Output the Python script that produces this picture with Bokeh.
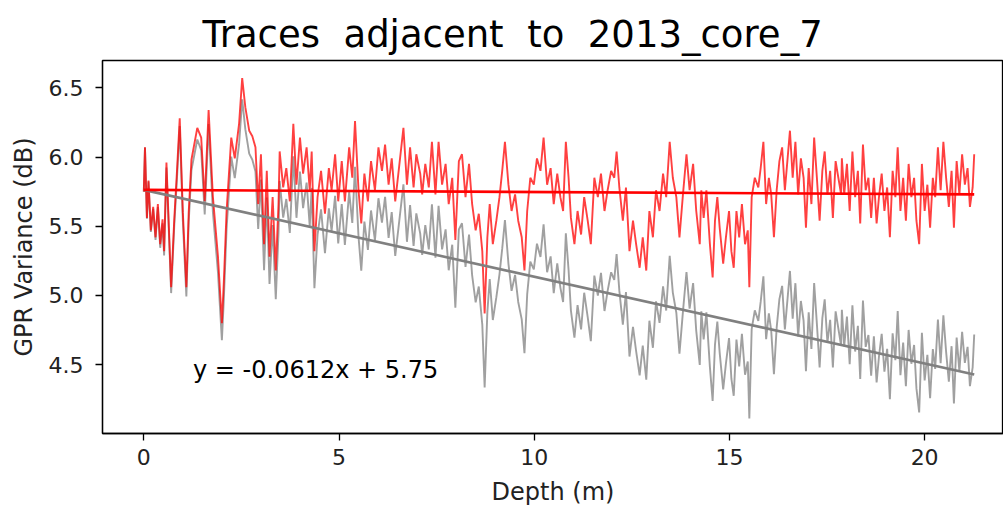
import numpy as np
from bokeh.plotting import figure
from bokeh.models import Range1d, Label, FixedTicker
from bokeh.embed import file_html
from bokeh.resources import INLINE

# ---- data ----
# depth (m) and the detrended GPR variance (dB) (red trace)
depth_m = [
    0.00, 0.03, 0.08, 0.12, 0.18, 0.24, 0.30, 0.36, 0.42, 0.48, 0.52, 0.58, 0.70, 0.78, 0.85, 0.92,
    1.00, 1.09, 1.15, 1.22, 1.37, 1.47, 1.56, 1.66, 1.77, 1.90, 2.00, 2.05, 2.12, 2.24, 2.33, 2.44,
    2.52, 2.60, 2.70, 2.78, 2.86, 2.93, 3.00, 3.08, 3.15, 3.22, 3.30, 3.38, 3.45,
    3.48, 3.57, 3.65, 3.74, 3.83, 3.91, 4.00, 4.08, 4.17, 4.25, 4.30, 4.37, 4.45, 4.54, 4.64, 4.74,
    4.81, 4.90, 4.98, 5.07, 5.15, 5.26, 5.34, 5.41, 5.50, 5.57, 5.65, 5.74, 5.82, 5.92, 6.01, 6.10,
    6.18, 6.27, 6.35, 6.44, 6.52, 6.65, 6.74, 6.82, 6.91, 6.98, 7.08,
    7.13, 7.21, 7.30, 7.38, 7.47, 7.55, 7.64, 7.73, 7.81, 7.90, 7.98, 8.07, 8.15, 8.24, 8.33, 8.41,
    8.50, 8.58, 8.67, 8.73, 8.80, 8.86, 8.94, 9.03, 9.11, 9.18, 9.25, 9.34, 9.42, 9.51, 9.59, 9.68,
    9.75, 9.82, 9.90, 9.99, 10.07, 10.16, 10.24, 10.33, 10.42, 10.50, 10.59, 10.67,
    10.74, 10.81, 10.88, 10.94, 11.03, 11.11, 11.20, 11.28, 11.37, 11.45, 11.54, 11.63, 11.71, 11.80,
    11.88, 11.97, 12.05, 12.11, 12.18, 12.27, 12.35, 12.44, 12.53, 12.61, 12.70, 12.78, 12.87, 12.95,
    13.04, 13.12, 13.21, 13.30, 13.38, 13.47, 13.55, 13.64, 13.72, 13.81, 13.90, 13.98, 14.07, 14.15, 14.24,
    14.28, 14.34, 14.41, 14.50, 14.57, 14.63, 14.69, 14.75, 14.84, 14.91, 14.99, 15.05, 15.11, 15.18,
    15.25, 15.32, 15.40, 15.47, 15.51, 15.57, 15.65, 15.74, 15.80, 15.87, 15.94, 16.01, 16.07, 16.14,
    16.21, 16.28, 16.35, 16.42, 16.49, 16.55, 16.62, 16.69, 16.76, 16.83, 16.90, 16.96, 17.03, 17.10,
    17.17, 17.24, 17.31, 17.38, 17.44, 17.51, 17.58, 17.65, 17.72, 17.79, 17.86,
    17.88, 17.94, 18.01, 18.08, 18.15, 18.22, 18.29, 18.35, 18.42, 18.49, 18.56, 18.63, 18.70, 18.77,
    18.83, 18.90, 18.97, 19.04, 19.11, 19.18, 19.25, 19.31, 19.38, 19.45, 19.52, 19.59, 19.66, 19.73,
    19.79, 19.86, 19.93, 20.00, 20.07, 20.14, 20.21, 20.27, 20.34, 20.41, 20.48, 20.55, 20.62, 20.69,
    20.75, 20.82, 20.89, 20.96, 21.03, 21.10, 21.16, 21.23, 21.27,
]
detrended_db = [
    5.75, 6.07, 5.56, 5.83, 5.47, 5.64, 5.42, 5.66, 5.37, 5.55, 5.32, 5.96, 5.06, 5.55, 5.90, 6.28,
    5.60, 5.06, 5.60, 5.98, 6.21, 6.14, 5.68, 6.34, 5.71, 5.28, 4.80, 5.10, 5.61, 6.14, 5.99, 6.24,
    6.57, 6.36, 6.19, 6.15, 6.07, 5.66, 6.02, 5.37, 5.90, 5.28, 5.71, 5.18, 5.66,
    6.04, 5.78, 5.92, 5.68, 6.24, 5.80, 6.14, 5.88, 6.07, 5.76, 6.04, 5.32, 5.71, 5.90, 5.59, 5.92,
    5.76, 6.02, 5.68, 5.97, 5.68, 6.07, 5.85, 6.26, 5.76, 5.52, 5.88, 5.68, 5.97, 5.76, 6.07, 5.90,
    6.09, 5.80, 5.99, 5.68, 5.88, 6.21, 5.80, 6.07, 5.78, 6.02, 5.88,
    5.73, 5.95, 5.78, 6.11, 5.73, 6.11, 5.80, 5.95, 5.66, 5.85, 5.40, 5.97, 6.02, 5.71, 5.95, 5.66,
    5.47, 5.59, 5.32, 4.87, 5.42, 5.66, 5.37, 5.54, 5.71, 5.90, 6.11, 5.80, 5.61, 5.73, 5.54, 5.42,
    5.18, 5.61, 5.85, 5.80, 5.99, 5.90, 6.14, 5.80, 5.92, 5.66, 5.88, 5.71,
    5.61, 6.11, 5.85, 5.56, 5.37, 5.61, 5.44, 5.71, 5.54, 5.37, 5.85, 5.71, 5.88, 5.61,
    5.76, 5.90, 5.85, 6.04, 5.78, 5.54, 5.78, 5.32, 5.54, 5.37, 5.20, 5.42, 5.18, 5.61,
    5.42, 5.76, 5.61, 5.88, 5.71, 6.11, 5.85, 5.71, 5.42, 5.73, 6.02, 5.76, 5.95, 5.61, 5.37,
    5.76, 5.56, 5.76, 5.37, 5.13, 5.54, 5.71, 5.49, 5.23, 5.42, 5.61, 5.32, 5.20, 5.61,
    5.42, 5.66, 5.37, 5.47, 5.06, 5.71, 5.85, 5.78, 5.92, 6.11, 5.66, 5.85, 5.73, 5.42,
    5.76, 5.97, 6.07, 5.76, 5.99, 6.19, 5.85, 6.11, 5.73, 5.99, 5.85, 5.49, 5.92, 5.66,
    6.14, 5.85, 5.54, 5.90, 6.04, 5.73, 5.90, 5.56, 5.97, 5.85, 5.73,
    5.99, 5.73, 5.95, 5.61, 6.04, 5.71, 5.90, 5.52, 6.09, 5.76, 5.85, 5.56, 5.85, 5.52,
    5.71, 5.88, 5.61, 5.78, 5.42, 5.90, 5.71, 6.07, 5.61, 5.85, 5.54, 5.95, 5.71, 5.85,
    5.54, 5.37, 5.95, 5.61, 5.80, 5.49, 5.85, 5.71, 6.07, 5.76, 6.11, 5.85, 5.64, 5.90,
    5.49, 5.97, 5.73, 6.02, 5.80, 5.92, 5.64, 5.78, 6.02,
]
trend_slope = -0.0612           # from the chart's annotation
trend_label = "y = -0.0612x + 5.75"
title_text = "Traces \u00a0adjacent \u00a0to \u00a02013_core_7"
x_ticks = [0, 5, 10, 15, 20]
y_ticks = [4.5, 5.0, 5.5, 6.0, 6.5]

d = np.array(depth_m)
red = np.array(detrended_db)
raw = red + trend_slope * d          # raw variance (gray trace)

g_fit = np.polyfit(d, raw, 1)
r_fit = np.polyfit(d, red, 1)
xx = np.array([d.min(), d.max()])

p = figure(width=1003, height=508, output_backend="svg", toolbar_location=None,
           x_range=Range1d(-1.058, 22.02), y_range=Range1d(4.003, 6.697),
           min_border_left=102, min_border_right=0, min_border_top=60, min_border_bottom=74)
p.title.text = title_text
p.title.text_font = "DejaVu Sans"
p.title.text_font_size = "37px"
p.title.text_font_style = "normal"
p.title.text_color = "black"
p.title.align = "left"
p.title.offset = 100

p.line(d, raw, line_color="gray", line_width=1.9, line_alpha=0.75)
p.line(d, red, line_color="red", line_width=1.9, line_alpha=0.75)
p.line(xx, np.polyval(g_fit, xx), line_color="gray", line_width=2.6)
p.line(xx, np.polyval(r_fit, xx), line_color="red", line_width=2.6)

p.add_layout(Label(x=1.26, y=4.465, text=trend_label, text_font="DejaVu Sans",
                   text_font_size="24px", text_color="black", text_baseline="alphabetic"))

p.xgrid.visible = False
p.ygrid.visible = False
p.outline_line_color = "black"
p.outline_line_width = 1.3
p.background_fill_color = "white"
p.border_fill_color = "white"

for ax in (p.xaxis[0], p.yaxis[0]):
    ax.major_tick_out = 7
    ax.major_tick_in = 0
    ax.minor_tick_out = 0
    ax.minor_tick_in = 0
    ax.major_tick_line_width = 1.3
    ax.major_tick_line_color = "black"
    ax.axis_line_color = "black"
    ax.axis_line_width = 1.3
    ax.major_label_text_font = "DejaVu Sans"
    ax.major_label_text_font_size = "22px"
    ax.major_label_text_color = "#222222"
    ax.axis_label_text_font = "DejaVu Sans"
    ax.axis_label_text_font_size = "24px"
    ax.axis_label_text_font_style = "normal"
    ax.axis_label_text_color = "#222222"

p.xaxis.ticker = FixedTicker(ticks=x_ticks)
p.yaxis.ticker = FixedTicker(ticks=y_ticks)
p.yaxis.major_label_overrides = {t: f"{t:.1f}" for t in y_ticks}
p.xaxis.axis_label = "Depth (m)"
p.yaxis.axis_label = "GPR Variance (dB)"
p.xaxis.major_label_standoff = 8
p.xaxis.axis_label_standoff = 10
p.yaxis.major_label_standoff = 12
p.yaxis.axis_label_standoff = 8

open("out.html", "w").write(file_html(p, INLINE))
